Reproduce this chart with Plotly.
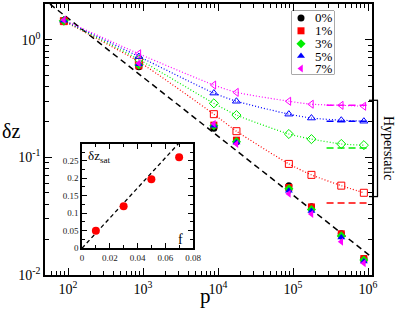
import plotly.graph_objects as go

# ---------------- data ----------------
p_vals = [88, 880, 8800, 17600, 88000, 176000, 440000, 880000]
series_names = ["0%", "1%", "3%", "5%", "7%"]
series_colors = ["#000000", "#ff0000", "#00ee00", "#0000ff", "#ff00ff"]
series_symbols = ["circle", "square", "diamond", "triangle-up", "triangle-left"]

# filled markers (all fractions)
dz_filled_0 = [1.45, 0.59, 0.177, 0.136, 0.0575, 0.038, 0.0224, 0.0138]
dz_filled_1 = [1.44, 0.60, 0.188, 0.140, 0.0555, 0.0379, 0.0224, 0.0138]
dz_filled_3 = [1.45, 0.61, 0.186, 0.136, 0.054, 0.036, 0.0215, 0.0134]
dz_filled_5 = [1.46, 0.62, 0.186, 0.134, 0.052, 0.035, 0.0208, 0.0130]
dz_filled_7 = [1.47, 0.63, 0.193, 0.130, 0.049, 0.033, 0.0192, 0.0126]

# open markers (hyperstatic, f > 0)
dz_open_1 = [1.44, 0.65, 0.233, 0.167, 0.088, 0.071, 0.0575, 0.050]
dz_open_3 = [1.45, 0.68, 0.288, 0.229, 0.158, 0.143, 0.130, 0.127]
dz_open_5 = [1.46, 0.72, 0.352, 0.300, 0.233, 0.216, 0.207, 0.203]
dz_open_7 = [1.47, 0.76, 0.412, 0.357, 0.300, 0.283, 0.277, 0.272]

# saturation levels (dashed horizontal segments)
sat_p = [280000, 1000000]
sat_levels = [0.041, 0.120, 0.203, 0.277]

# p^-1/2 reference line
ref_p = [57.5, 1.17e6]
ref_dz = [2.01, 0.0139]

# inset: saturation value vs fraction f
inset_f = [0.01, 0.03, 0.05, 0.07]
inset_dzsat = [0.050, 0.120, 0.197, 0.260]
inset_fit_f = [0.0, 0.08]
inset_fit_dz = [0.0, 0.344]
inset_xticks = [0, 0.02, 0.04, 0.06, 0.08]
inset_yticks = [0, 0.05, 0.1, 0.15, 0.2, 0.25]

# legend rows (pixel y)
legend_rows_y = [16, 29, 42, 54.5, 67]

# ---------------- helpers ----------------
L, R, T, B = 45, 372, 2, 275
W, H = 395, 310


def PX(x):
    return (x - L) / (R - L)


def PY(y):
    return (B - y) / (B - T)


SERIF = "Liberation Serif"

fig = go.Figure()

# reference dashed line
fig.add_trace(go.Scatter(x=ref_p, y=ref_dz, mode="lines",
                         line=dict(color="black", width=1.5, dash="6px,4px"),
                         xaxis="x", yaxis="y", hoverinfo="skip"))

open_sets = [dz_open_1, dz_open_3, dz_open_5, dz_open_7]
for i, ys in enumerate(open_sets):
    k = i + 1
    fig.add_trace(go.Scatter(
        x=p_vals, y=ys, mode="lines",
        line=dict(color=series_colors[k], width=1.2, dash="1px,2px", shape="spline", smoothing=0.6),
        xaxis="x", yaxis="y"))
for i, ys in enumerate(open_sets):
    k = i + 1
    fig.add_trace(go.Scatter(
        x=p_vals[2:], y=ys[2:], mode="markers",
        marker=dict(symbol=series_symbols[k] + "-open", size=7,
                    color=series_colors[k], line=dict(width=1, color=series_colors[k])),
        xaxis="x", yaxis="y"))

for i, lvl in enumerate(sat_levels):
    k = i + 1
    fig.add_trace(go.Scatter(
        x=sat_p, y=[lvl, lvl], mode="lines",
        line=dict(color=series_colors[k], width=1.5, dash="7px,4px"),
        xaxis="x", yaxis="y"))

# open markers at the two lowest pressures (drawn under the filled ones)
for i, ys in enumerate(open_sets):
    k = i + 1
    fig.add_trace(go.Scatter(
        x=p_vals[:2], y=ys[:2], mode="markers",
        marker=dict(symbol=series_symbols[k] + "-open", size=7,
                    color=series_colors[k], line=dict(width=1, color=series_colors[k])),
        xaxis="x", yaxis="y"))

filled_sets = [dz_filled_0, dz_filled_1, dz_filled_3, dz_filled_5, dz_filled_7]
for k, ys in enumerate(filled_sets):
    fig.add_trace(go.Scatter(
        x=p_vals, y=ys, mode="markers",
        marker=dict(symbol=series_symbols[k], size=7, color=series_colors[k],
                    line=dict(width=0)),
        xaxis="x", yaxis="y"))

# inset
fig.add_trace(go.Scatter(x=inset_fit_f, y=inset_fit_dz, mode="lines",
                         line=dict(color="black", width=1.3, dash="4px,3px"),
                         xaxis="x2", yaxis="y2"))
fig.add_trace(go.Scatter(x=inset_f, y=inset_dzsat, mode="markers",
                         marker=dict(symbol="circle", size=8, color="#ff0000"),
                         xaxis="x2", yaxis="y2", cliponaxis=False))

# custom legend markers
for k in range(5):
    fig.add_trace(go.Scatter(
        x=[301], y=[legend_rows_y[k]], mode="markers",
        marker=dict(symbol=series_symbols[k], size=7, color=series_colors[k]),
        xaxis="x3", yaxis="y3", cliponaxis=False))

axis_common = dict(showgrid=False, zeroline=False, showline=True, linecolor="black",
                   linewidth=1.5, mirror="allticks", ticks="inside", tickcolor="black")

fig.update_layout(
    width=W, height=H, autosize=False,
    margin=dict(l=L, r=W - R, t=T, b=H - B, pad=0),
    plot_bgcolor="white", paper_bgcolor="white",
    showlegend=False,
    xaxis=dict(type="log", range=[1.693, 6.053], domain=[0, 1], anchor="y",
               tickvals=[1e2, 1e3, 1e4, 1e5, 1e6],
               ticktext=["10<sup>2</sup>", "10<sup>3</sup>", "10<sup>4</sup>",
                         "10<sup>5</sup>", "10<sup>6</sup>"],
               ticklen=7, tickwidth=1,
               tickfont=dict(family=SERIF, size=14, color="black"),
               minor=dict(ticks="inside", ticklen=4, dtick="D1", tickcolor="black",
                          showgrid=False),
               **axis_common),
    yaxis=dict(type="log", range=[-2, 0.304], domain=[0, 1], anchor="x",
               tickvals=[0.01, 0.1, 1],
               ticktext=["10<sup>-2</sup>", "10<sup>-1</sup>", "10<sup>0</sup>"],
               ticklen=7, tickwidth=1,
               tickfont=dict(family=SERIF, size=14, color="black"),
               minor=dict(ticks="inside", ticklen=4, dtick="D1", tickcolor="black",
                          showgrid=False),
               **axis_common),
    xaxis2=dict(range=[0, 0.08], domain=[PX(82), PX(193)], anchor="y2",
                tickvals=inset_xticks, ticklen=5,
                tickfont=dict(family=SERIF, size=9, color="#222"),
                minor=dict(ticks="inside", ticklen=3, dtick=0.01, tickcolor="black"),
                **axis_common),
    yaxis2=dict(range=[0, 0.298], domain=[PY(248), PY(143)], anchor="x2",
                tickvals=inset_yticks, ticklen=5,
                tickfont=dict(family=SERIF, size=9, color="#222"),
                minor=dict(ticks="inside", ticklen=3, dtick=0.025, tickcolor="black"),
                **axis_common),
    xaxis3=dict(range=[292, 334], domain=[PX(292), PX(334)], anchor="y3",
                visible=False, showgrid=False, zeroline=False),
    yaxis3=dict(range=[73, 9], domain=[PY(73), PY(9)], anchor="x3",
                visible=False, showgrid=False, zeroline=False),
)

shapes = []
# legend box
shapes.append(dict(type="rect", xref="paper", yref="paper",
                   x0=PX(292), x1=PX(334), y0=PY(73), y1=PY(9),
                   line=dict(color="#555", width=1), fillcolor="rgba(0,0,0,0)", layer="below"))
# Hyperstatic bracket
for yy in (99, 196):
    shapes.append(dict(type="line", xref="paper", yref="paper",
                       x0=PX(369), x1=PX(378), y0=PY(yy), y1=PY(yy),
                       line=dict(color="black", width=1.3)))
shapes.append(dict(type="line", xref="paper", yref="paper",
                   x0=PX(377.5), x1=PX(377.5), y0=PY(99), y1=PY(196),
                   line=dict(color="black", width=1.3)))
fig.update_layout(shapes=shapes)

annotations = []
for k in range(5):
    annotations.append(dict(x=313, y=legend_rows_y[k], xref="x3", yref="y3",
                            text=series_names[k], showarrow=False, xanchor="left",
                            yanchor="middle",
                            font=dict(family=SERIF, size=13, color="black")))
annotations.append(dict(x=PX(388), y=PY(147), xref="paper", yref="paper",
                        text="Hyperstatic", textangle=90, showarrow=False,
                        xanchor="center", yanchor="middle",
                        font=dict(family=SERIF, size=14, color="black")))
annotations.append(dict(x=PX(11), y=PY(130), xref="paper", yref="paper",
                        text="δz", showarrow=False, xanchor="center", yanchor="middle",
                        font=dict(family=SERIF, size=20, color="black")))
annotations.append(dict(x=PX(205), y=PY(296), xref="paper", yref="paper",
                        text="p", showarrow=False, xanchor="center", yanchor="middle",
                        font=dict(family=SERIF, size=21, color="black")))
annotations.append(dict(x=PX(86), y=PY(156), xref="paper", yref="paper",
                        text="δz<sub>sat</sub>", showarrow=False, xanchor="left",
                        yanchor="middle",
                        font=dict(family=SERIF, size=13, color="black")))
annotations.append(dict(x=PX(180), y=PY(239), xref="paper", yref="paper",
                        text="f", showarrow=False, xanchor="center", yanchor="middle",
                        font=dict(family=SERIF, size=14, color="black")))
fig.update_layout(annotations=annotations)

fig.write_html("out.html", config={"displayModeBar": False},
               post_script="document.body.style.margin='0';document.body.style.overflow='hidden';")
